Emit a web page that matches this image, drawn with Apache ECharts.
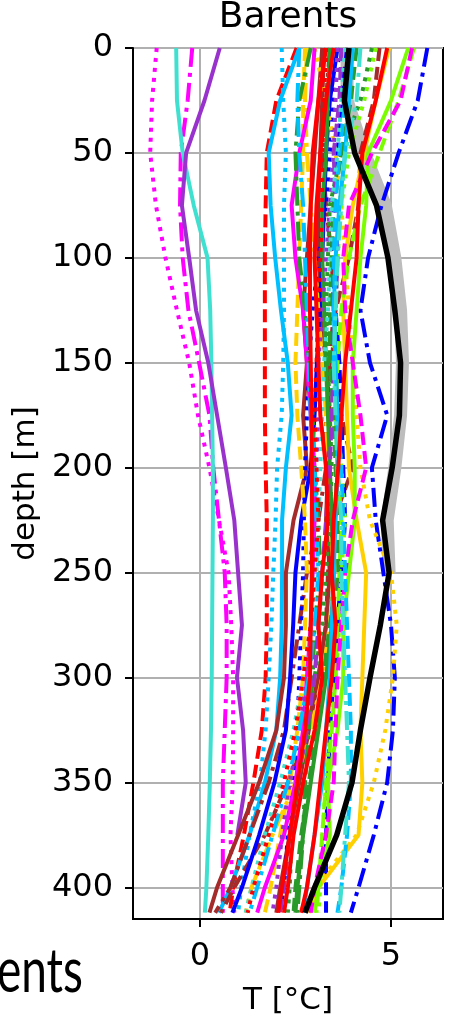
<!DOCTYPE html>
<html>
<head>
<meta charset="utf-8">
<script src="https://cdn.jsdelivr.net/npm/echarts@6/dist/echarts.min.js"></script>
<style>
  html, body { margin: 0; padding: 0; background: #fff; }
  #chart { width: 449px; height: 1015px; }
</style>
</head>
<body>
<div id="chart"></div>
<script>
// depth levels [m] shared by every profile
const depths = [0, 25, 50, 75, 100, 125, 150, 175, 200, 225, 250, 275, 300, 325, 350, 375, 400, 412];
const xTicks = [0, 5];
const yTicks = [0, 50, 100, 150, 200, 250, 300, 350, 400];

// temperature profiles [°C], one value per depth level
const magentaDotted   = [-1.13, -1.25, -1.3, -1.15, -0.9, -0.6, -0.28, -0.05, 0.25, 0.5, 0.75, 0.82, 0.87, 0.87, 0.86, 0.8, 0.85, 0.9];
const magentaDashDot  = [-0.2, -0.32, -0.5, -0.52, -0.45, -0.3, -0.02, 0.25, 0.35, 0.5, 0.65, 0.7, 0.7, 0.65, 0.6, 0.6, 0.6, 0.6];
const turquoiseSolid  = [-0.62, -0.6, -0.45, -0.16, 0.2, 0.27, 0.3, 0.32, 0.34, 0.34, 0.33, 0.32, 0.31, 0.29, 0.26, 0.22, 0.17, 0.13];
const orchidSolid     = [0.52, 0.12, -0.36, -0.47, -0.28, -0.1, 0.22, 0.45, 0.68, 0.9, 1.0, 1.1, 0.97, 1.13, 1.2, 0.98, null, null];
const redDashed       = [2.53, 2.0, 1.75, 1.72, 1.7, 1.7, 1.7, 1.7, 1.72, 1.75, 1.75, 1.75, 1.72, 1.62, 1.4, 1.15, 0.87, 0.78];
const skySolidLeft    = [2.6, 2.1, 1.8, 1.85, 1.97, 2.12, 2.3, 2.4, 2.25, 2.15, 2.15, 2.14, 2.1, 2.0, 1.7, 1.3, 0.8, 0.5];
const skyDotted       = [2.14, 2.18, 2.25, 2.2, 2.2, 2.2, 2.18, 2.14, 2.02, 1.98, 1.92, 1.87, 1.8, 1.72, 1.57, 1.3, 1.08, 1.0];
const brownSolidA     = [3.2, 3.1, 3.0, 2.9, 2.8, 2.7, 2.8, 2.7, 2.8, 2.45, 2.25, 2.25, 2.2, 2.0, 1.55, 1.0, 0.45, 0.25];
const brownDashed     = [4.7, 4.55, 4.2, 4.15, 3.9, 3.55, 3.45, 3.7, 4.0, 3.5, 3.35, 3.3, 3.1, 2.8, 2.3, 1.7, 0.9, 0.55];
const brownSolidB     = [3.25, 3.2, 3.15, 3.1, 3.1, 3.15, 3.3, 3.4, 3.35, 3.3, 3.4, 3.3, 3.1, 2.85, 2.6, 2.35, 2.1, 2.0];
const brownDashDot    = [3.4, 3.3, 3.2, 3.3, 3.45, 3.5, 3.4, 3.3, 3.3, 3.1, 2.8, 2.6, 2.4, 2.2, 1.8, 1.3, 0.8, 0.4];
const blueDashDot     = [5.95, 5.7, 5.2, 4.75, 4.4, 4.2, 4.45, 4.9, 4.5, 4.6, 4.8, 5.0, 5.1, 5.05, 4.9, 4.55, 4.15, 3.95];
const blueSolid       = [3.6, 3.4, 3.3, 3.25, 3.2, 3.14, 3.06, 3.0, 2.9, 2.65, 2.5, 2.44, 2.36, 2.25, 1.95, 1.55, 1.1, 0.85];
const blueDotted      = [3.66, 3.5, 3.4, 3.3, 3.1, 2.95, 2.85, 2.8, 2.75, 2.72, 2.7, 2.65, 2.6, 2.55, 2.45, 2.3, 2.2, 2.1];
const blueDashed      = [3.85, 3.7, 3.6, 3.5, 3.45, 3.55, 3.65, 3.7, 3.75, 3.8, 3.7, 3.6, 3.5, 3.4, 3.35, 3.3, 3.3, 3.3];
const goldDotted      = [3.0, 3.3, 3.55, 3.7, 3.8, 3.9, 4.0, 4.1, 4.2, 4.45, 5.0, 5.15, 5.05, 4.85, 4.55, 4.1, 3.0, 2.6];
const goldSolid       = [4.95, 4.6, 4.3, 4.0, 3.8, 3.75, 3.8, 3.85, 3.9, 4.1, 4.35, 4.3, 4.25, 4.2, 4.25, 4.15, 3.1, 2.85];
const goldDashed      = [2.75, 2.7, 2.7, 2.65, 2.6, 2.55, 2.5, 2.55, 2.65, 2.75, 2.8, 2.75, 2.7, 2.55, 2.35, 2.1, 1.85, 1.7];
const goldDashDot     = [2.8, 2.75, 2.8, 2.9, 3.0, 3.1, 3.2, 3.3, 3.35, 3.4, 3.5, 3.4, 3.2, 2.9, 2.5, 1.9, 1.35, 1.2];
const limeSolid       = [5.45, 5.0, 4.4, 4.35, 4.2, 4.1, 4.0, 4.0, 4.05, 4.05, 3.9, 3.75, 3.75, 3.6, 3.35, 3.4, 3.1, 3.0];
const limeDashed      = [5.6, 5.2, 4.7, 4.2, 3.9, 3.7, 3.6, 3.55, 3.6, 3.7, 3.65, 3.6, 3.55, 3.45, 3.3, 3.2, 3.1, 3.05];
const limeDotted      = [4.6, 4.3, 3.9, 3.7, 3.6, 3.55, 3.5, 3.6, 3.7, 3.8, 3.7, 3.65, 3.55, 3.4, 3.3, 3.2, 3.15, 3.1];
const magentaDashed   = [5.55, 5.25, 4.5, 3.9, 3.75, 3.8, 4.0, 4.2, 4.35, 4.0, 3.8, 3.7, 3.6, 3.55, 3.5, 3.3, 3.0, 2.9];
const magentaSolid    = [3.0, 2.9, 2.6, 2.4, 2.5, 2.7, 2.8, 2.9, 3.0, 3.0, 2.95, 2.9, 2.8, 2.7, 2.5, 2.2, 1.7, 1.5];
const redSolidA       = [3.3, 3.1, 2.95, 2.9, 2.88, 2.88, 2.9, 2.92, 2.93, 2.93, 2.93, 2.9, 2.88, 2.75, 2.55, 2.35, 2.15, 2.05];
const redSolidB       = [4.9, 4.6, 4.25, 4.15, 4.1, 3.95, 3.8, 3.7, 3.62, 3.5, 3.45, 3.55, 3.45, 3.3, 3.15, 3.0, 2.8, 2.65];
const redSolidC       = [3.5, 3.3, 3.15, 3.05, 3.0, 3.05, 3.1, 3.15, 3.3, 3.35, 3.2, 3.1, 3.2, 3.0, 2.7, 2.45, 2.3, 2.2];
const redDotted       = [3.3, 3.25, 3.2, 3.2, 3.15, 3.1, 3.05, 3.0, 3.05, 3.1, 3.0, 2.9, 2.7, 2.5, 2.2, 1.8, 1.4, 1.25];
const greenDashed     = [4.1, 3.95, 3.7, 3.5, 3.45, 3.4, 3.4, 3.5, 3.55, 3.6, 3.62, 3.4, 3.22, 3.05, 2.85, 2.65, 2.5, 2.45];
const greenDotted     = [4.5, 4.2, 3.7, 3.4, 3.35, 3.3, 3.35, 3.4, 3.45, 3.4, 3.3, 3.2, 3.0, 2.8, 2.55, 2.4, 2.35, 2.3];
const greenDashDot    = [2.9, 2.6, 2.5, 2.55, 2.6, 2.75, 2.85, 2.95, 3.0, 3.1, 3.15, 3.0, 2.95, 2.85, 2.75, 2.7, 2.6, 2.55];
const greenSolid      = [3.4, 3.35, 3.3, 3.2, 3.2, 3.25, 3.3, 3.35, 3.4, 3.45, 3.5, 3.45, 3.3, 3.1, 2.9, 2.7, 2.55, 2.5];
const orchidDotted    = [3.6, 3.55, 3.5, 3.4, 3.3, 3.2, 3.1, 3.1, 3.05, 3.05, 3.0, 2.9, 2.8, 2.6, 2.35, 2.15, 2.0, 1.9];
const orchidDashed    = [3.7, 3.65, 3.5, 3.55, 3.6, 3.55, 3.5, 3.45, 3.4, 3.3, 3.2, 3.1, 3.0, 2.8, 2.55, 2.35, 2.2, 2.1];
const skyDashed       = [3.9, 3.8, 3.65, 3.55, 3.5, 3.55, 3.5, 3.6, 3.7, 3.75, 3.8, 3.85, 3.9, 3.95, 3.95, 3.85, 3.7, 3.6];
const skyDashDot      = [2.6, 2.55, 2.6, 2.7, 2.75, 2.8, 2.85, 2.9, 3.0, 3.05, 3.1, 3.0, 2.85, 2.6, 2.3, 1.9, 1.5, 1.3];
const skySolidRight   = [4.0, 3.9, 3.8, 3.65, 3.55, 3.5, 3.55, 3.6, 3.6, 3.55, 3.5, 3.45, 3.4, 3.3, 3.2, 3.0, 2.8, 2.7];
const turquoiseDashDot = [4.2, 4.1, 3.8, 3.7, 3.6, 3.55, 3.5, 3.55, 3.6, 3.7, 3.7, 3.75, 3.8, 3.85, 3.9, 3.8, 3.7, 3.65];
const turquoiseDotted = [3.8, 3.7, 3.6, 3.45, 3.4, 3.35, 3.25, 3.2, 3.15, 3.1, 3.05, 2.9, 2.7, 2.45, 2.1, 1.7, 1.35, 1.2];
// mean profile and its spread band
const spreadBand      = [3.85, 3.85, 4.3, 4.85, 5.1, 5.25, 5.3, 5.25, 5.1, 4.9, 4.95, null, null, null, null, null, null, null];
const meanProfile     = [3.9, 3.78, 4.05, 4.62, 4.92, 5.1, 5.25, 5.22, 5.03, 4.78, 4.95, 4.72, 4.45, 4.2, 3.98, 3.58, 3.0, 2.75];

const RED = '#ff0000', BLUE = '#0000ff', MAGENTA = '#ff00ff', ORCHID = '#9932cc',
      TURQ = '#40e0d0', SKY = '#00bfff', GOLD = '#ffd000', BROWN = '#a52a2a',
      GREEN = '#2a9a2a', LIME = '#7cfc00';
const SOLID = 'solid', DASHED = [13, 6], DOTTED = [4, 6], DASHDOT = [19, 6, 4, 6];

const profiles = [
  [magentaDotted, MAGENTA, DOTTED], [magentaDashDot, MAGENTA, DASHDOT], [turquoiseSolid, TURQ, SOLID],
  [orchidSolid, ORCHID, SOLID], [redDashed, RED, DASHED], [skySolidLeft, SKY, SOLID], [skyDotted, SKY, DOTTED],
  [brownSolidA, BROWN, SOLID], [brownDashed, BROWN, DASHED], [brownSolidB, BROWN, SOLID], [brownDashDot, BROWN, DASHDOT],
  [blueDashDot, BLUE, DASHDOT], [blueSolid, BLUE, SOLID], [blueDotted, BLUE, DOTTED], [blueDashed, BLUE, DASHED],
  [goldDotted, GOLD, DOTTED], [goldSolid, GOLD, SOLID], [goldDashed, GOLD, DASHED], [goldDashDot, GOLD, DASHDOT],
  [limeSolid, LIME, SOLID], [limeDashed, LIME, DASHED], [limeDotted, LIME, DOTTED],
  [magentaDashed, MAGENTA, DASHED], [magentaSolid, MAGENTA, SOLID],
  [greenDashed, GREEN, DASHED], [greenDotted, GREEN, DOTTED], [greenDashDot, GREEN, DASHDOT], [greenSolid, GREEN, SOLID],
  [orchidDotted, ORCHID, DOTTED], [orchidDashed, ORCHID, DASHED],
  [skyDashed, SKY, DASHED], [skyDashDot, SKY, DASHDOT], [skySolidRight, SKY, SOLID],
  [turquoiseDashDot, TURQ, DASHDOT], [turquoiseDotted, TURQ, DOTTED],
  [redDotted, RED, DOTTED], [redSolidC, RED, SOLID], [redSolidB, RED, SOLID], [redSolidA, RED, SOLID]
];

const toPairs = temps => temps.map((t, i) => (t == null ? null : [t, depths[i]])).filter(p => p);

const lineSeries = (temps, color, type, width) => ({
  type: 'line',
  data: toPairs(temps),
  showSymbol: false,
  symbol: 'none',
  silent: true,
  lineStyle: { color: color, width: width, type: type, cap: 'butt' }
});

const series = [lineSeries(spreadBand, '#bdbdbd', SOLID, 13)]
  .concat(profiles.map(p => lineSeries(p[0], p[1], p[2], 4)))
  .concat([lineSeries(meanProfile, '#000000', SOLID, 5.5)]);

const FONT = 'DejaVu Sans';
const chart = echarts.init(document.getElementById('chart'), null, { renderer: 'canvas' });

chart.setOption({
  animation: false,
  backgroundColor: '#ffffff',
  grid: {
    left: 133, right: 6, top: 48, bottom: 96,
    outerBoundsMode: 'none', containLabel: false,
    show: true, borderColor: '#000', borderWidth: 2, backgroundColor: 'transparent'
  },
  xAxis: {
    type: 'value',
    min: -1.75,
    max: 6.36,
    name: 'T [°C]',
    nameLocation: 'middle',
    nameGap: 66,
    nameTextStyle: { fontSize: 31, color: '#000', fontFamily: FONT },
    axisLine: { show: true, onZero: false, lineStyle: { color: '#000', width: 2 } },
    axisTick: { show: true, customValues: xTicks, length: 8, lineStyle: { color: '#000', width: 2 } },
    axisLabel: { customValues: xTicks, fontSize: 32, color: '#000', fontFamily: FONT, margin: 22 },
    splitLine: { show: true, lineStyle: { color: '#b0b0b0', width: 2 } }
  },
  yAxis: {
    type: 'value',
    inverse: true,
    min: 0,
    max: 415,
    name: 'depth [m]',
    nameLocation: 'middle',
    nameGap: 92,
    nameRotate: 90,
    nameTextStyle: { fontSize: 31, color: '#000', fontFamily: FONT },
    axisLine: { show: true, onZero: false, lineStyle: { color: '#000', width: 2 } },
    axisTick: { show: true, customValues: yTicks, length: 8, lineStyle: { color: '#000', width: 2 } },
    axisLabel: { customValues: yTicks, fontSize: 32, color: '#000', fontFamily: FONT, margin: 20 },
    splitLine: { show: true, lineStyle: { color: '#b0b0b0', width: 2 } }
  },
  graphic: [
    { type: 'text', x: 288, y: 18, style: { text: 'Barents', fill: '#000', font: '36px "DejaVu Sans"', textAlign: 'center', textVerticalAlign: 'middle' } },
    { type: 'text', x: 83, y: 972, scaleY: 1.35, style: { text: 'ents', fill: '#000', font: '46px Lato', textAlign: 'right', textVerticalAlign: 'middle' } }
  ],
  series: series
});
</script>
</body>
</html>
